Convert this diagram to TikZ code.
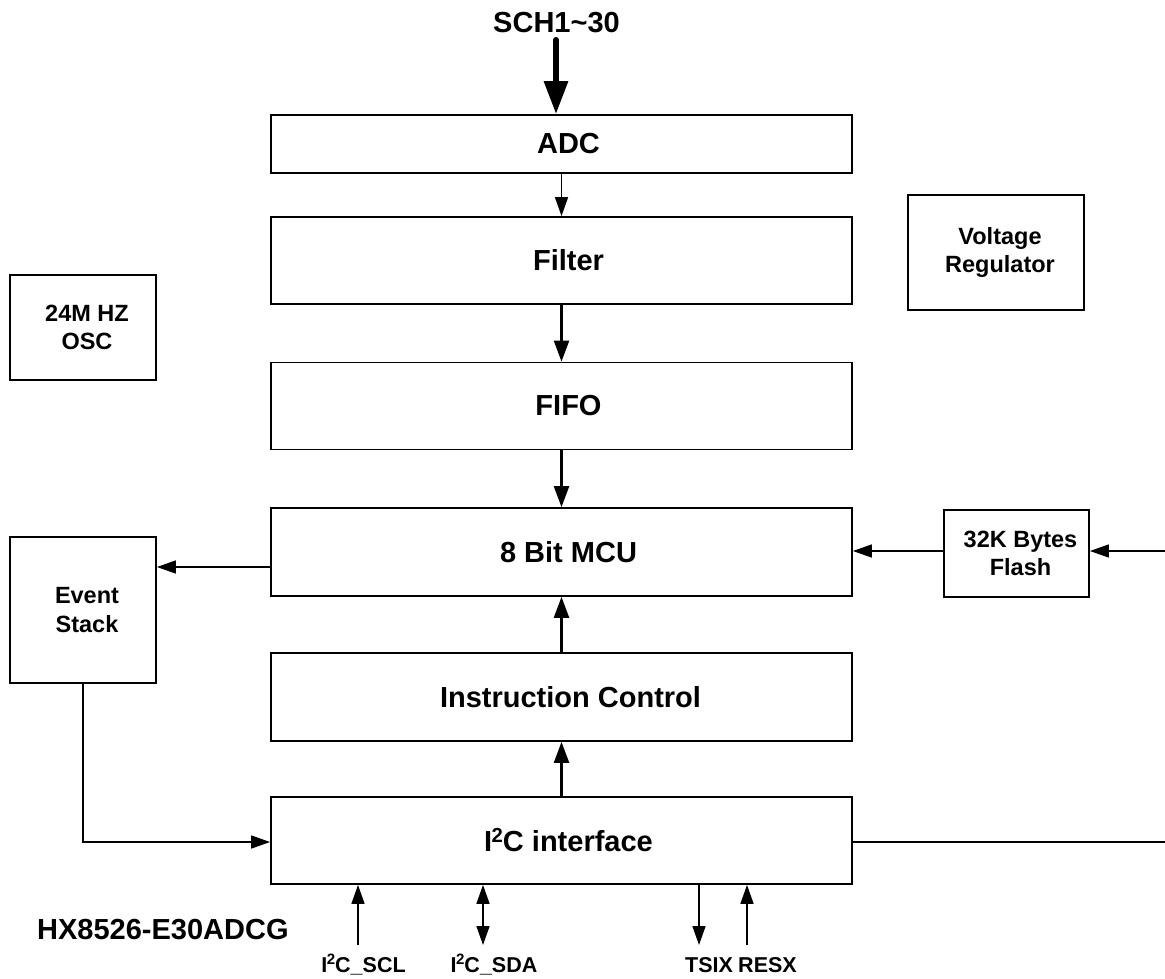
\documentclass[tikz,border=0pt]{standalone}
\usepackage{fontspec}
\setmainfont{Liberation Sans}
\usetikzlibrary{arrows.meta}
\newcommand{\Isq}{I\kern-0.5pt\textsuperscript{2}\kern-0.5pt C}
\tikzset{
  box/.style={draw, line width=1.8pt, inner sep=0pt},
  bigtxt/.style={font=\bfseries\fontsize{29}{32}\selectfont, align=center, inner sep=0pt},
  smalltxt/.style={font=\bfseries\fontsize{23.5}{28.5}\selectfont, align=center, inner sep=0pt},
  pintxt/.style={font=\bfseries\fontsize{21.5}{26}\selectfont, inner sep=0pt, anchor=base},
  arr/.style={-{Triangle[length=19pt,width=13pt]}, line width=1.6pt},
  thickarr/.style={-{Triangle[length=21pt,width=15pt]}, line width=2.4pt},
  wire/.style={line width=1.6pt},
}
\begin{document}
\begin{tikzpicture}[x=1pt,y=-1pt]
\useasboundingbox (0,0) rectangle (1165,979);
\fill[white] (0,0) rectangle (1165,979);

% main column
\node[box, minimum width=581pt, minimum height=58pt] (adc) at (561.5,144) {};
\node[box, minimum width=581pt, minimum height=87pt] (filter) at (561.5,260.5) {};
\node[box, minimum width=581pt, minimum height=87pt] (fifo) at (561.5,406) {};
\node[box, minimum width=581pt, minimum height=88pt] (mcu) at (561.5,552) {};
\node[box, minimum width=581pt, minimum height=88pt] (instr) at (561.5,697) {};
\node[box, minimum width=581pt, minimum height=87pt] (i2c) at (561.5,840.5) {};

\node[bigtxt] (adct) at ([xshift=7pt]adc.center) {ADC};
\node[bigtxt] (filtert) at ([xshift=7pt]filter.center) {Filter};
\node[bigtxt] (fifot) at ([xshift=7pt]fifo.center) {FIFO};
\node[bigtxt] (mcut) at ([xshift=7pt]mcu.center) {8 Bit MCU};
\node[bigtxt] (instrt) at ([xshift=9pt]instr.center) {Instruction Control};
\node[bigtxt] (i2ct) at ([xshift=7pt]i2c.center) {\Isq{} interface};

% side boxes
\node[box, minimum width=176pt, minimum height=115pt] (vr) at (996,252.5) {};
\node[box, minimum width=146pt, minimum height=105pt] (osc) at (83,327.5) {};
\node[box, minimum width=146pt, minimum height=146pt] (event) at (83,610) {};
\node[box, minimum width=145pt, minimum height=87pt] (flash) at (1016.5,553.5) {};

\node[smalltxt] (vrt) at ([xshift=4pt]vr.center) {Voltage\\Regulator};
\node[smalltxt] (osct) at ([xshift=4pt]osc.center) {24M HZ\\OSC};
\node[smalltxt] (eventt) at ([xshift=4pt]event.center) {Event\\Stack};
\node[smalltxt] (flasht) at ([xshift=4pt]flash.center) {32K Bytes\\Flash};

% input
\node[bigtxt] (sch) at (556.5,22.5) {SCH1\textasciitilde 30};
\coordinate (schtop) at (556,40);
\draw[line width=6pt, line cap=round, -{Triangle[length=33pt,width=23pt]}] (schtop) -- (schtop |- adc.north);

% vertical chain
\draw[arr] (adc.south) -- (filter.north);
\draw[thickarr] (filter.south) -- (fifo.north);
\draw[thickarr] (fifo.south) -- (mcu.north);
\draw[thickarr] (instr.north) -- (mcu.south);
\draw[thickarr] (i2c.north) -- (instr.south);

% side connections
\draw[arr] (mcu.west |- 0,567) -- (event.east |- 0,567);
\draw[arr] (flash.west |- 0,551) -- (mcu.east |- 0,551);
\coordinate (rin) at (1165,551);
\draw[arr] (rin) -- (flash.east |- rin);
\draw[arr] (event.south) |- (i2c.west |- 0,842);
\coordinate (rout) at (1165,842);
\draw[wire] (i2c.east |- rout) -- (rout);

% bottom pins
\coordinate (scl) at (358,945);
\coordinate (sda) at (483,945);
\coordinate (tsix) at (699,945);
\coordinate (resx) at (747,945);
\draw[arr] (scl) -- (scl |- i2c.south);
\draw[line width=1.6pt, {Triangle[length=19pt,width=13pt]}-{Triangle[length=19pt,width=13pt]}] (sda |- i2c.south) -- (sda);
\draw[arr] (tsix |- i2c.south) -- (tsix);
\draw[arr] (resx) -- (resx |- i2c.south);

\node[pintxt] (sclt) at (363.5,972) {\Isq\_SCL};
\node[pintxt] (sdat) at (494,972) {\Isq\_SDA};
\node[pintxt] (tsixt) at (709,972) {TSIX};
\node[pintxt] (resxt) at (767.5,972) {RESX};

\node[font=\bfseries\fontsize{29}{32}\selectfont, inner sep=0pt, anchor=base west] (part) at (37,939) {HX8526-E30ADCG};
\end{tikzpicture}
\end{document}
